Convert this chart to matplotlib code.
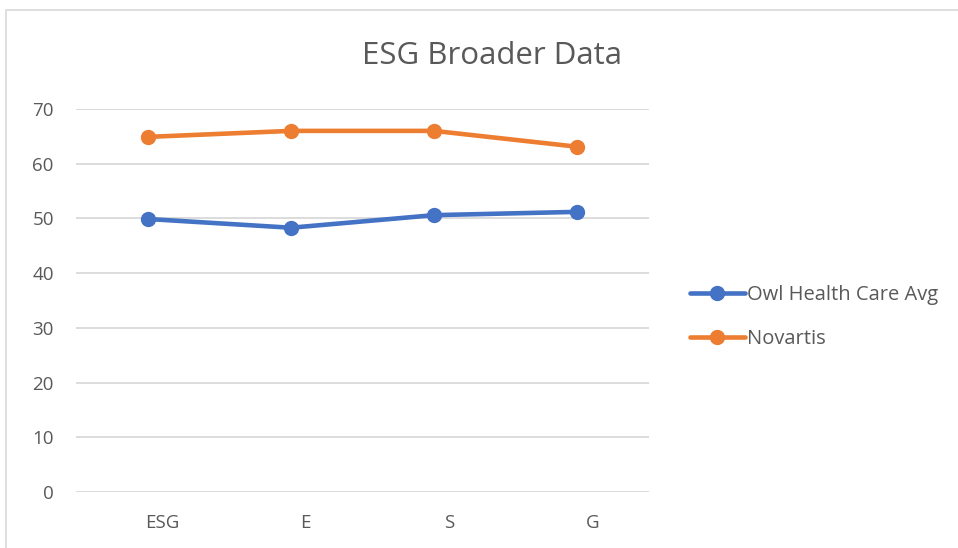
import matplotlib.pyplot as plt
import matplotlib.transforms as mtransforms
from matplotlib.patches import Rectangle

categories = ["ESG", "E", "S", "G"]
owl_avg = [49.9, 48.3, 50.6, 51.2]
novartis = [64.9, 66.0, 66.0, 63.1]

BLUE = "#4472C4"
ORANGE = "#ED7D31"
TEXT = "#595959"
GRID = "#D9D9D9"

plt.rcParams["font.family"] = ["Open Sans", "DejaVu Sans"]

W, H = 958, 548
fig = plt.figure(figsize=(W / 100, H / 100), dpi=100)

# chart frame (light grey box like the office chart)
fig.patches.append(Rectangle((6 / W, -0.1), 1.2, 1 - 10 / H + 0.1, transform=fig.transFigure,
                             fill=False, edgecolor="#D9D9D9", linewidth=1.2))

ax = fig.add_axes([76 / W, 1 - 492 / H, (649 - 76) / W, (492 - 109) / H])
x = range(len(categories))
ax.plot(x, owl_avg, color=BLUE, lw=3.3, marker="o", ms=10, label="Owl Health Care Avg",
        solid_capstyle="round")
ax.plot(x, novartis, color=ORANGE, lw=3.3, marker="o", ms=10, label="Novartis",
        solid_capstyle="round")

ax.set_xlim(-0.5, len(categories) - 0.5)
ax.set_ylim(0, 70)
ax.set_yticks(range(0, 71, 10))
ax.set_xticks(list(x))
ax.set_xticklabels(categories)
ax.yaxis.grid(True, color=GRID, lw=1.3)
ax.set_axisbelow(True)
for s in ax.spines.values():
    s.set_visible(False)
ax.tick_params(length=0, labelsize=13.5, labelcolor=TEXT)
ax.tick_params(axis="y", pad=16)
ax.tick_params(axis="x", pad=16)
shift = mtransforms.ScaledTranslation(15 / 100, 0, fig.dpi_scale_trans)
for lbl in ax.get_xticklabels():
    lbl.set_transform(lbl.get_transform() + shift)

fig.text(492 / W, 1 - 56 / H, "ESG Broader Data", ha="center", va="center",
         fontsize=22.5, color=TEXT)

leg = fig.legend(loc="center left", bbox_to_anchor=(672 / W, 1 - 317 / H), frameon=False,
                 fontsize=14.5, labelcolor=TEXT, handlelength=2.7, handletextpad=0.1,
                 labelspacing=1.15)

fig.savefig("out.png", dpi=100)
